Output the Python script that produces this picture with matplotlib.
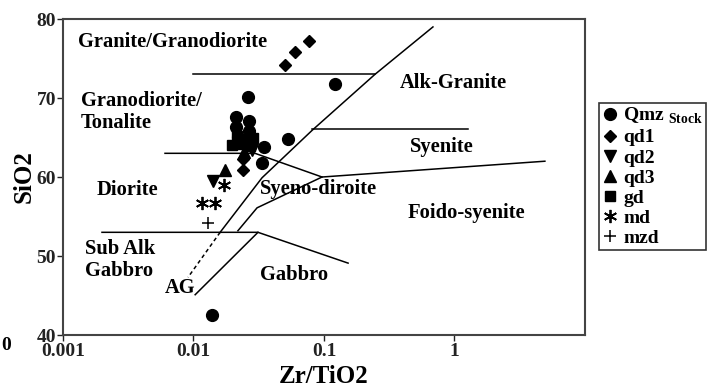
import matplotlib
matplotlib.use("Agg")
from matplotlib import pyplot as plt
from matplotlib.ticker import FixedLocator, FixedFormatter, NullLocator

plt.rcParams['font.family'] = ['Liberation Serif', 'DejaVu Serif']
plt.rcParams['font.weight'] = 'bold'
plt.rcParams['mathtext.fontset'] = 'custom'
plt.rcParams['mathtext.rm'] = 'Liberation Serif:bold'
plt.rcParams['mathtext.bf'] = 'Liberation Serif:bold'

# samples (Zr/TiO2, SiO2)
qmz_x = [0.121, 0.0262, 0.053, 0.0347, 0.0335, 0.0212, 0.0266, 0.0212, 0.0266, 0.0219, 0.0139]
qmz_y = [71.8, 70.1, 64.8, 63.8, 61.8, 67.6, 67.1, 66.3, 65.8, 65.1, 42.5]
qd1_x = [0.0767, 0.060, 0.0502, 0.0239, 0.0239]
qd1_y = [77.2, 75.8, 74.2, 62.3, 60.9]
qd2_x = [0.0141, 0.028]
qd2_y = [59.5, 63.4]
qd3_x = [0.0174, 0.0227, 0.0244]
qd3_y = [60.9, 64.3, 63.2]
gd_x = [0.0197, 0.0286, 0.0239, 0.0271, 0.0216]
gd_y = [64.1, 64.9, 64.7, 63.9, 65.2]
md_x = [0.0172, 0.0116, 0.0146]
md_y = [59.0, 56.7, 56.7]
mzd_x = [0.0129]
mzd_y = [54.2]

# field boundaries
line_a_x = [0.684, 0.246, 0.081, 0.0335, 0.016]
line_a_y = [79.0, 73.0, 65.9, 59.9, 53.0]
dash_x = [0.016, 0.00908]
dash_y = [53.0, 47.3]
l73_x = [0.01, 0.246]
l73_y = [73.0, 73.0]
l66_x = [0.081, 1.27]
l66_y = [66.1, 66.1]
l63_x = [0.00605, 0.0296, 0.0966, 4.93]
l63_y = [63.0, 63.0, 60.0, 62.0]
line_b_x = [0.0966, 0.0307, 0.0219]
line_b_y = [60.0, 56.1, 53.2]
l53_x = [0.00199, 0.0312, 0.153]
l53_y = [53.0, 53.0, 49.1]
ag_x = [0.0312, 0.0103]
ag_y = [53.0, 45.1]

fields = [("Granite/Granodiorite", 0.0013, 77.1),
          ("Granodiorite/\nTonalite", 0.00137, 68.2),
          ("Diorite", 0.00182, 58.4),
          ("Sub Alk\nGabbro", 0.00148, 49.5),
          ("AG", 0.00605, 45.9),
          ("Gabbro", 0.0324, 47.6),
          ("Syeno-diroite", 0.0324, 58.5),
          ("Foido-syenite", 0.441, 55.4),
          ("Syenite", 0.456, 63.8),
          ("Alk-Granite", 0.382, 71.9)]

fig = plt.figure(figsize=(7.07, 3.89), dpi=100)
ax = fig.add_axes([0.0891, 0.1388, 0.7383, 0.8123])

for lx, ly in [(line_a_x, line_a_y), (l73_x, l73_y), (l66_x, l66_y), (l63_x, l63_y),
               (line_b_x, line_b_y), (l53_x, l53_y), (ag_x, ag_y)]:
    ax.plot(lx, ly, '-', color='k', lw=1.1)
ax.plot(dash_x, dash_y, '--', color='k', lw=1.1, dashes=(2.5, 2))

for txt, tx, ty in fields:
    ax.text(tx, ty, txt, fontsize=14.8, fontweight='bold', ha='left', va='center', linespacing=1.1)

ax.plot(qmz_x, qmz_y, 'o', color='k', ms=8.5, ls='none', label=r'Qmz $_{\mathbf{Stock}}$')
ax.plot(qd1_x, qd1_y, 'D', color='k', ms=6.5, ls='none', label='qd1')
ax.plot(qd2_x, qd2_y, 'v', color='k', ms=8, ls='none', label='qd2')
ax.plot(qd3_x, qd3_y, '^', color='k', ms=8, ls='none', label='qd3')
ax.plot(gd_x, gd_y, 's', color='k', ms=7, ls='none', label='gd')
ax.plot(md_x, md_y, marker=(6, 2, 0), color='k', ms=9.5, mew=1.3, ls='none', label='md')
ax.plot(mzd_x, mzd_y, '+', color='k', ms=9, mew=1.1, ls='none', label='mzd')

ax.set_xscale('log')
ax.set_xlim(0.001, 10)
ax.set_ylim(40, 80)
ax.xaxis.set_major_locator(FixedLocator([0.001, 0.01, 0.1, 1]))
ax.xaxis.set_major_formatter(FixedFormatter(['0.001', '0.01', '0.1', '1']))
ax.xaxis.set_minor_locator(NullLocator())
ax.set_yticks([40, 50, 60, 70, 80])
ax.tick_params(labelsize=14, length=4, width=1, colors='#222222', pad=1)
ax.tick_params(axis='x', pad=2)
for s in ax.spines.values():
    s.set_color('#444444')
    s.set_linewidth(1.5)

ax.set_xlabel('Zr/TiO2', fontsize=18, fontweight='bold', labelpad=3)
ax.set_ylabel('SiO2', fontsize=18, fontweight='bold', labelpad=1)

leg = fig.legend(loc='upper left', bbox_to_anchor=(0.847, 0.735), borderaxespad=0,
                 fancybox=False, frameon=True, framealpha=1, edgecolor='#333333', fontsize=14,
                 handlelength=0.8, handletextpad=0.3, borderpad=0.15, labelspacing=0.13)
leg.get_frame().set_linewidth(1.2)

fig.text(0.008, 1 - 345 / 389, '0', fontsize=14, fontweight='bold', ha='center', va='center')

fig.savefig('out.png', dpi=100)
